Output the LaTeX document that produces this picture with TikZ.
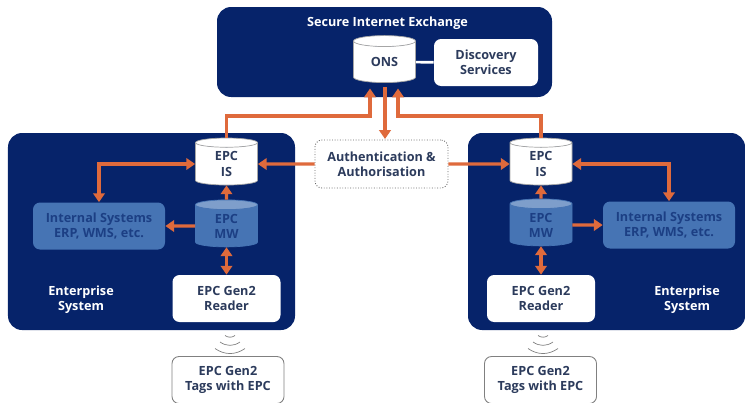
\documentclass[tikz,border=0pt]{standalone}
\usepackage{fontspec}
\setmainfont{Open Sans}
\usetikzlibrary{arrows.meta}
\usetikzlibrary{shapes.geometric}
\definecolor{panelblue}{HTML}{06236A}
\definecolor{midblue}{HTML}{4674B4}
\definecolor{linkorange}{HTML}{DF6A3C}
\definecolor{labelgrey}{HTML}{2C3B5C}
\tikzset{
	panel/.style={rectangle,rounded corners=8pt,fill=panelblue},
	whitebox/.style={rectangle,rounded corners=4pt,fill=white,text=labelgrey,font=\bfseries\fontsize{7.2}{8.6}\selectfont,align=center,minimum width=2.14cm,minimum height=0.94cm},
	bluebox/.style={rectangle,rounded corners=4pt,fill=midblue,text=panelblue!65!midblue,font=\bfseries\fontsize{7.2}{8.6}\selectfont,align=center,minimum width=2.64cm,minimum height=0.94cm},
	tagbox/.style={whitebox,draw=gray,line width=0.5pt,minimum width=2.24cm},
	panellabel/.style={text=white,font=\bfseries\fontsize{7.2}{8.6}\selectfont,align=center},
	whitedrum/.style={cylinder,shape border rotate=90,aspect=0.4,draw=gray!70,line width=0.4pt,cylinder uses custom fill,cylinder body fill=white,cylinder end fill=white,text=labelgrey,font=\bfseries\fontsize{7.2}{8.6}\selectfont,align=center,minimum width=1.24cm,minimum height=0.94cm,inner sep=0pt},
	bluedrum/.style={whitedrum,draw=midblue,cylinder body fill=midblue,cylinder end fill=midblue!70!white,text=panelblue!65!midblue},
	link/.style={draw=linkorange,line width=1.8pt,-{Triangle[width=6.5pt,length=5pt]}},
	dlink/.style={link,{Triangle[width=6.5pt,length=5pt]}-{Triangle[width=6.5pt,length=5pt]}},
	wave/.style={draw=gray,line width=0.4pt}
}
\begin{document}
\begin{tikzpicture}
	\useasboundingbox (0,0) rectangle (14.9,8.04);
	\node[panel,minimum width=6.7cm,minimum height=1.8cm] (exchange) at (7.69,7.0) {};
	\node[panel,minimum width=5.74cm,minimum height=3.94cm] (panell) at (3.03,3.41) {};
	\node[panel,minimum width=5.54cm,minimum height=3.94cm] (panelr) at (12.13,3.41) {};
	\node[panellabel] (exchangelabel) at (7.75,7.58) {Secure Internet Exchange};
	\node[panellabel] (entl) at (1.62,2.04) {Enterprise\\System};
	\node[panellabel] (entr) at (13.74,2.04) {Enterprise\\System};
	\node[whitedrum] (ons) at (7.69,6.8) {ONS};
	\node[whitebox,minimum width=2.08cm] (disc) at (9.72,6.79) {Discovery\\Services};
	\node[whitebox,draw=gray!80!black,densely dotted,line width=0.5pt,minimum width=2.66cm,minimum height=0.96cm] (auth) at (7.63,4.76) {Authentication \&\\Authorisation};
	\node[whitedrum] (isl) at (4.53,4.76) {EPC\\IS};
	\node[bluedrum] (mwl) at (4.53,3.52) {EPC\\MW};
	\node[bluebox] (intl) at (1.98,3.52) {Internal Systems\\ERP, WMS, etc.};
	\node[whitebox,minimum width=2.16cm] (readl) at (4.53,2.07) {EPC Gen2\\Reader};
	\node[tagbox] (tagsl) at (4.56,0.44) {EPC Gen2\\Tags with EPC};
	\node[whitedrum] (isr) at (10.82,4.76) {EPC\\IS};
	\node[bluedrum] (mwr) at (10.82,3.54) {EPC\\MW};
	\node[bluebox] (intr) at (13.38,3.54) {Internal Systems\\ERP, WMS, etc.};
	\node[whitebox,minimum width=2.16cm] (readr) at (10.82,2.07) {EPC Gen2\\Reader};
	\node[tagbox] (tagsr) at (10.81,0.44) {EPC Gen2\\Tags with EPC};
	\coordinate (onsl) at (7.4,6.27);
	\coordinate (onsr) at (7.96,6.27);
	\coordinate (onsm) at (7.7,6.3);
	\coordinate (authm) at (7.7,5.26);
	\coordinate (bendl) at (7.4,5.72);
	\coordinate (bendr) at (7.96,5.72);
	\coordinate (wavel) at (4.6,1.02);
	\coordinate (waver) at (10.86,1.02);
	\draw[white,line width=1.5pt] (ons) -- (disc);
	\draw[link] (isl.north) |- (bendl) -- (onsl);
	\draw[link] (isr.north) |- (bendr) -- (onsr);
	\draw[link] (onsm) -- (authm);
	\draw[link] (auth.west) -- (isl.east);
	\draw[link] (auth.east) -- (isr.west);
	\draw[dlink] (isl.west) -| (intl.north);
	\draw[dlink] (isr.east) -| (intr.north);
	\draw[link] (mwl.north) -- (isl.south);
	\draw[link] (mwr.north) -- (isr.south);
	\draw[link] (mwl.west) -- (intl.east);
	\draw[link] (mwr.east) -- (intr.west);
	\draw[dlink] (mwl.south) -- (readl.north);
	\draw[dlink] (mwr.south) -- (readr.north);
	\foreach \w/\h in {0.1/0.26,0.2/0.13,0.3/0} {
		\draw[wave] ([shift={(-\w,\h+0.05)}]wavel) to[bend right=35] ([shift={(\w,\h+0.05)}]wavel);
		\draw[wave] ([shift={(-\w,\h+0.05)}]waver) to[bend right=35] ([shift={(\w,\h+0.05)}]waver);
	}
\end{tikzpicture}
\end{document}
